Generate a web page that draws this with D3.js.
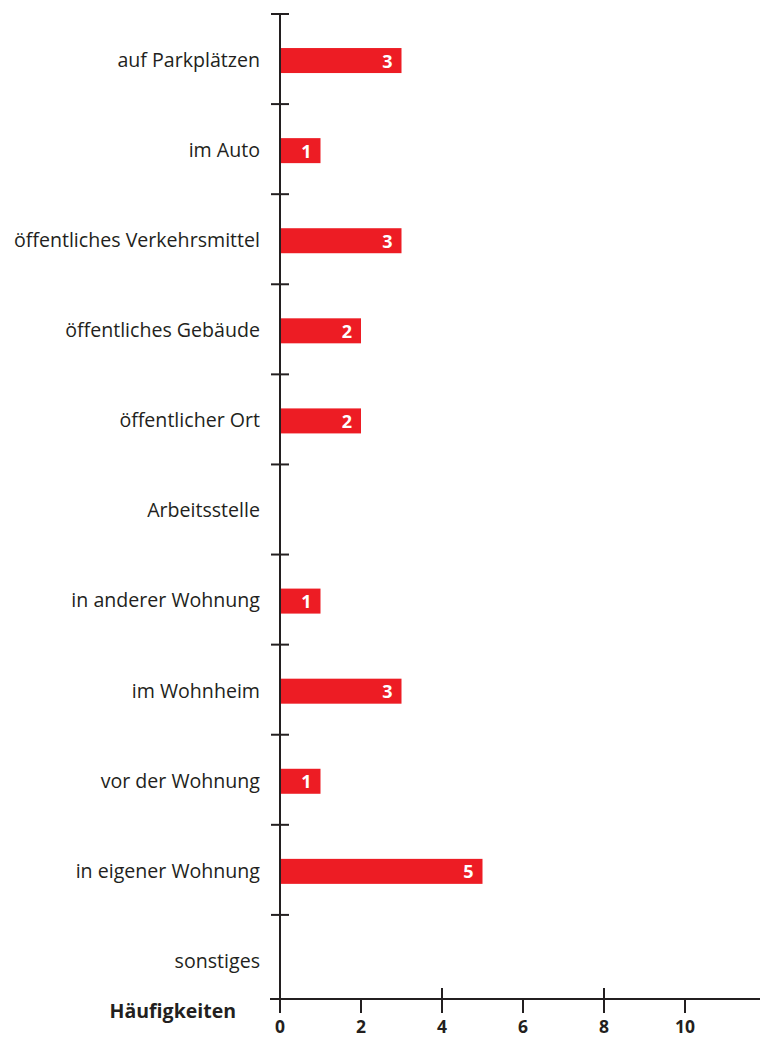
<!DOCTYPE html>
<html><head><meta charset="utf-8">
<script src="https://cdn.jsdelivr.net/npm/d3@7"></script>
<style>
html,body{margin:0;padding:0;background:#fff;}
svg{display:block;}
text{font-family:"Open Sans","Noto Sans",sans-serif;}
</style></head>
<body>
<svg id="chart" width="760" height="1039"></svg>
<script>
const categories = ["auf Parkplätzen","im Auto","öffentliches Verkehrsmittel","öffentliches Gebäude","öffentlicher Ort","Arbeitsstelle","in anderer Wohnung","im Wohnheim","vor der Wohnung","in eigener Wohnung","sonstiges"];
const values = [3,1,3,2,2,0,1,3,1,5,0];
const xTicks = [0,2,4,6,8,10];
const xTitle = "Häufigkeiten";

const ink = "#231f20", red = "#ed1c24";
const svg = d3.select("#chart");
const W = 760;
const x = d3.scaleLinear().domain([0,10]).range([280,685]);
const y = d3.scaleBand().domain(categories).range([14,1005]).padding(0);
const axisY = 999;

// bars
svg.append("g").selectAll("rect").data(categories).join("rect")
  .filter((d,i)=>values[i]>0)
  .attr("x", x(0)).attr("y", d=>y(d)+y.bandwidth()/2-11)
  .attr("width", (d)=>x(values[categories.indexOf(d)])-x(0)).attr("height",25)
  .attr("fill", red);

// value labels
svg.append("g").selectAll("text").data(categories.filter((d,i)=>values[i]>0)).join("text")
  .attr("x", d=>x(values[categories.indexOf(d)])-9)
  .attr("y", d=>y(d)+y.bandwidth()/2+2)
  .attr("dy","0.36em").attr("text-anchor","end")
  .attr("fill","#fff").attr("font-weight","bold").attr("font-size",18)
  .text(d=>values[categories.indexOf(d)]);

// category labels
svg.append("g").selectAll("text").data(categories).join("text")
  .attr("x", 260).attr("y", d=>y(d)+y.bandwidth()/2+1)
  .attr("dy","0.35em").attr("text-anchor","end")
  .attr("fill",ink).attr("font-size",19.6)
  .text(d=>d);

// y axis line
svg.append("line").attr("x1",x(0)).attr("x2",x(0)).attr("y1",y.range()[0]).attr("y2",axisY+1)
  .attr("stroke",ink).attr("stroke-width",2);
// y ticks (band boundaries)
svg.append("g").selectAll("line").data(categories).join("line")
  .attr("x1",x(0)-9).attr("x2",x(0)+9).attr("y1",d=>y(d)).attr("y2",d=>y(d))
  .attr("stroke",ink).attr("stroke-width",2);

// x axis
svg.append("line").attr("x1",x(0)-10).attr("x2",W).attr("y1",axisY).attr("y2",axisY)
  .attr("stroke",ink).attr("stroke-width",2.2);
svg.append("g").selectAll("line").data(xTicks).join("line")
  .attr("x1",d=>x(d)).attr("x2",d=>x(d))
  .attr("y1",d=>(d%4===0)? axisY-11 : axisY).attr("y2",axisY+14)
  .attr("stroke",ink).attr("stroke-width",2);
svg.append("g").selectAll("text").data(xTicks).join("text")
  .attr("x",d=>x(d)).attr("y",1033).attr("text-anchor","middle")
  .attr("fill",ink).attr("font-weight","bold").attr("font-size",17.5)
  .text(d=>d);
svg.append("text").attr("x",236).attr("y",1018).attr("text-anchor","end")
  .attr("fill",ink).attr("font-weight","bold").attr("font-size",19.5)
  .text(xTitle);
</script>
</body></html>
